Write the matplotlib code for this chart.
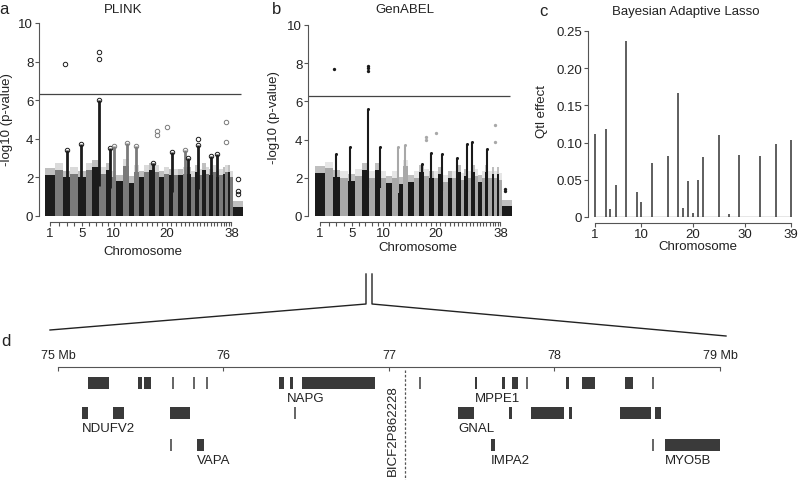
import matplotlib
matplotlib.use("Agg")
import matplotlib.pyplot as plt
import numpy as np

plt.rcParams['font.family'] = ['Liberation Sans', 'DejaVu Sans']

W, H = 798, 481

# dog chromosome lengths in Mb (1..38, X)
chrom_len = [125.6, 88.4, 94.7, 91.5, 91.9, 80.0, 83.9, 77.3, 62.0, 69.9,
             75.0, 72.5, 64.0, 61.4, 65.3, 60.2, 65.0, 56.5, 58.2, 59.0,
             51.8, 61.8, 54.0, 49.8, 52.5, 41.5, 48.0, 43.0, 42.7, 40.9,
             42.4, 40.6, 34.4, 45.1, 29.9, 32.8, 31.8, 26.9, 126.9]
labelled_chroms = [1, 5, 10, 20, 38]

# panel a: PLINK, dense band height per chromosome, columns (chrom, frac, top), single hits
plink_base = [2.15, 2.4, 2.0, 2.2, 2.0, 2.4, 2.55, 2.2, 2.4, 2.0,
              1.8, 2.6, 1.7, 2.3, 2.0, 2.3, 2.4, 2.3, 2.0, 2.2,
              2.1, 2.1, 2.1, 2.2, 2.2, 2.0, 2.3, 2.1, 2.4, 2.2,
              2.1, 2.3, 2.0, 2.1, 2.2, 2.3, 2.3, 2.0, 0.45]
plink_spikes = [(3, 0.6, 3.4), (5, 0.35, 3.75), (7, 0.93, 6.0), (9, 0.85, 3.5),
                (10, 0.55, 3.65), (12, 0.8, 3.8), (14, 0.5, 3.65), (17, 0.6, 2.75),
                (21, 0.6, 3.3), (24, 0.5, 3.4), (25, 0.3, 3.0), (27, 0.75, 3.7),
                (31, 0.5, 3.1), (33, 0.5, 3.2)]
plink_points = [(3, 0.3, 7.9), (7, 0.93, 8.5), (7, 0.93, 8.15), (18, 0.6, 4.4),
                (18, 0.6, 4.2), (20, 0.5, 4.6), (36, 0.2, 4.85), (36, 0.2, 3.85),
                (27, 0.9, 4.0), (39, 0.5, 1.9), (39, 0.55, 1.3), (39, 0.55, 1.15)]

# panel b: GenABEL
genabel_base = [2.25, 2.5, 2.05, 2.0, 1.85, 2.1, 2.4, 2.0, 2.4, 2.0,
                1.75, 2.0, 1.7, 2.6, 1.8, 2.0, 2.3, 2.1, 2.0, 2.0,
                2.2, 1.8, 2.0, 2.0, 2.3, 1.9, 2.1, 2.0, 2.3, 2.1,
                1.8, 2.0, 2.3, 2.0, 2.2, 2.0, 2.2, 1.9, 0.5]
genabel_spikes = [(3, 0.5, 3.25), (5, 0.25, 3.6), (7, 0.93, 5.6), (9, 0.9, 3.6),
                  (12, 0.9, 3.6), (14, 0.4, 3.7), (17, 0.6, 2.7), (19, 0.5, 3.3),
                  (21, 0.75, 3.25), (25, 0.2, 3.05), (27, 0.75, 3.75), (29, 0.3, 3.9),
                  (33, 0.8, 3.5)]
genabel_points = [(3, 0.2, 7.7), (7, 0.93, 7.85), (7, 0.93, 7.75), (7, 0.93, 7.6),
                  (18, 0.4, 4.15), (18, 0.4, 4.0), (20, 0.5, 4.35), (36, 0.5, 4.75),
                  (36, 0.5, 3.9), (39, 0.3, 1.4), (39, 0.3, 1.3)]

threshold = 6.3

# panel c: Bayesian adaptive lasso QTL effects
bal_pos = [1, 3.1, 4, 5.1, 7.1, 9.1, 10, 12, 15.1, 17, 18, 19, 20, 21, 22,
           25, 27, 29, 33, 36, 39]
bal_eff = [0.111, 0.118, 0.011, 0.043, 0.237, 0.034, 0.020, 0.073, 0.082, 0.167,
           0.0125, 0.048, 0.005, 0.050, 0.080, 0.110, 0.0045, 0.084, 0.082, 0.0985, 0.104]

# panel d: genes in chr7 75-79 Mb
gene_start = [75.183, 75.485, 75.521, 75.693, 75.824, 75.900, 76.333, 76.400, 76.474,
              77.185, 77.518, 77.683, 77.743, 77.832, 78.068, 78.164, 78.428, 78.593,
              75.147, 75.334, 75.677, 76.432, 77.417, 77.725, 77.860, 78.088, 78.393, 78.605,
              75.681, 75.842, 77.614, 78.597, 78.668]
gene_end = [75.308, 75.509, 75.560, 75.693, 75.824, 75.900, 76.364, 76.420, 76.915,
            77.185, 77.533, 77.699, 77.779, 77.832, 78.086, 78.247, 78.474, 78.593,
            75.183, 75.397, 75.800, 76.432, 77.516, 77.741, 78.057, 78.108, 78.584, 78.645,
            75.681, 75.884, 77.642, 78.597, 79.002]
gene_row = [1] * 18 + [2] * 10 + [3] * 5
gene_names = ['NDUFV2', 'VAPA', 'NAPG', 'MPPE1', 'GNAL', 'IMPA2', 'MYO5B']
gene_label_pos = [75.147, 75.842, 76.384, 77.518, 77.417, 77.614, 78.668]
gene_label_row = [2, 3, 1, 1, 2, 3, 3]
marker_name = 'BICF2P862228'
marker_pos = 77.097
region_ticks = [75, 76, 77, 78, 79]

TXT = '#222222'
AXC = '#555555'
FS = 9.5

fig = plt.figure(figsize=(W / 100, H / 100), dpi=100)


def px_axes(left, top, right, bottom, **kw):
    return fig.add_axes([left / W, 1 - bottom / H, (right - left) / W, (bottom - top) / H], **kw)


def ftext(x, y, s, **kw):
    kw.setdefault('color', TXT)
    fig.text(x / W, 1 - y / H, s, ha=kw.pop('ha', 'center'), va=kw.pop('va', 'center'), **kw)


def style_axes(ax):
    for side in ['top', 'right']:
        ax.spines[side].set_visible(False)
    for side in ['left', 'bottom']:
        ax.spines[side].set_color(AXC)
        ax.spines[side].set_linewidth(0.8)
    ax.spines['bottom'].set_position(('outward', 4.3))
    ax.tick_params(length=2.6, width=0.8, color=AXC, labelsize=FS, labelcolor=TXT)
    ax.tick_params(axis='y', pad=1.5)
    ax.tick_params(axis='x', pad=0.8)


def manhattan(ax, base, spikes, points, colors, hollow, data_px, ax_px, thr_end):
    starts = np.concatenate([[0], np.cumsum(chrom_len)[:-1]])
    centers = starts + np.array(chrom_len) / 2
    total = sum(chrom_len)
    sc = (data_px[1] - data_px[0]) / total
    ax.set_xlim((ax_px[0] - data_px[0]) / sc, (ax_px[1] - data_px[0]) / sc)
    ax.set_ylim(0, 10)
    cols = [colors[i % 2] for i in range(len(chrom_len))]
    # faint halo of sparse points just above the dense band
    ax.bar(starts, np.array(base) + 0.35, width=chrom_len, align='edge', color=cols,
           alpha=0.28, linewidth=0)
    ax.bar(starts, base, width=chrom_len, align='edge', color=cols, linewidth=0)
    for c, f, top in spikes:
        i = c - 1
        x = starts[i] + f * chrom_len[i]
        ax.vlines(x, base[i] * 0.6, top, color=cols[i], lw=2.0 if hollow else 1.5)
        if hollow:
            ax.plot(x, top, 'o', ms=3.2, mfc='none', mec=cols[i], mew=0.7)
        else:
            ax.plot(x, top, 'o', ms=2.2, color=cols[i], mew=0)
    for c, f, v in points:
        i = c - 1
        x = starts[i] + f * chrom_len[i]
        if hollow:
            ax.plot(x, v, 'o', ms=3.2, mfc='none', mec=cols[i], mew=0.7)
        else:
            ax.plot(x, v, 'o', ms=2.4, color=cols[i], mew=0)
    ax.hlines(threshold, ax.get_xlim()[0], (thr_end - data_px[0]) / sc, color='#444444', lw=0.9)
    style_axes(ax)
    ax.set_yticks([0, 2, 4, 6, 8, 10])
    ax.spines['left'].set_bounds(0, 10)
    ax.set_xticks(centers[:38])
    ax.set_xticklabels([str(i + 1) if (i + 1) in labelled_chroms else '' for i in range(38)])
    ax.spines['bottom'].set_bounds(centers[0], centers[37])


# panel a
ax_a = px_axes(39, 24, 245, 217)
manhattan(ax_a, plink_base, plink_spikes, plink_points, ['#1c1c1c', '#7a7a7a'], True,
          (45, 243), (39, 245), 241)
ftext(4, 10, 'a', fontsize=12)
ftext(123, 10, 'PLINK', fontsize=FS)
ftext(7, 120, '-log10 (p-value)', fontsize=FS, rotation=90)
ftext(143, 252, 'Chromosome', fontsize=FS)

# panel b
ax_b = px_axes(308, 26, 514, 217)
manhattan(ax_b, genabel_base, genabel_spikes, genabel_points, ['#1a1a1a', '#a8a8a8'], False,
          (315, 512), (308, 514), 510)
ftext(277, 9, 'b', fontsize=12)
ftext(405, 10, 'GenABEL', fontsize=FS)
ftext(274, 118, '-log10 (p-value)', fontsize=FS, rotation=90)
ftext(418, 248, 'Chromosome', fontsize=FS)

# panel c
ax_c = px_axes(588, 32, 797, 218)
sc_c = (791 - 595) / 38
ax_c.set_xlim(1 - (595 - 588) / sc_c, 39 + (797 - 791) / sc_c)
ax_c.set_ylim(0, 0.25)
ax_c.vlines(bal_pos, 0, bal_eff, color='#333333', lw=1.1)
ax_c.hlines(0, 1, 39, color='#444444', lw=0.9)
style_axes(ax_c)
ax_c.set_yticks([0, 0.05, 0.10, 0.15, 0.20, 0.25])
ax_c.set_yticklabels(['0', '0.05', '0.10', '0.15', '0.20', '0.25'])
ax_c.spines['left'].set_bounds(0, 0.25)
ax_c.set_xticks([1, 10, 20, 30, 39])
ax_c.spines['bottom'].set_bounds(1, 39)
ftext(543, 12, 'c', fontsize=12)
ftext(686, 12, 'Bayesian Adaptive Lasso', fontsize=FS)
ftext(542, 112, 'Qtl effect', fontsize=FS, rotation=90)
ftext(698, 247, 'Chromosome', fontsize=FS)

# panel d
ax_d = px_axes(0, 260, W, H)
ax_d.patch.set_alpha(0)
mb_px = 165.5
ax_d.set_xlim(75 - 58 / mb_px, 75 + (W - 58) / mb_px)
ax_d.set_ylim(H, 260)
row_y = {1: 384, 2: 414, 3: 446}
for s, e, r in zip(gene_start, gene_end, gene_row):
    y = row_y[r]
    if e - s < 0.005:
        ax_d.vlines(s, y - 6, y + 6, color='#3a3a3a', lw=1.1)
    else:
        ax_d.barh(y, e - s, left=s, height=12, color='#3a3a3a', linewidth=0)
for name, x, r in zip(gene_names, gene_label_pos, gene_label_row):
    ax_d.text(x, row_y[r] + 15, name, ha='left', va='center', fontsize=FS, color=TXT)
ax_d.vlines(marker_pos, 371, H, color='#555555', lw=0.9, linestyles=(0, (2, 1.5)))
ax_d.annotate(marker_name, xy=(marker_pos, 431), xytext=(-8.6, 0), textcoords='offset points',
              rotation=90, ha='center', va='center', fontsize=FS, color=TXT)
for side in ['left', 'right', 'bottom']:
    ax_d.spines[side].set_visible(False)
ax_d.spines['top'].set_position(('data', 368))
ax_d.spines['top'].set_bounds(75, 79)
ax_d.spines['top'].set_color(AXC)
ax_d.spines['top'].set_linewidth(0.8)
ax_d.xaxis.tick_top()
ax_d.set_xticks(region_ticks)
ax_d.set_xticklabels(['75 Mb', '76', '77', '78', '79 Mb'])
ax_d.set_yticks([])
ax_d.tick_params(axis='x', direction='in', length=3.2, width=0.8, color=AXC,
                 labelsize=9, labelcolor=TXT, pad=4)
ftext(6, 342, 'd', fontsize=12)

# connector lines from panel b (chr7) down to the zoomed region in panel d
ax_o = fig.add_axes([0, 0, 1, 1])
ax_o.patch.set_alpha(0)
ax_o.set_xlim(0, W)
ax_o.set_ylim(H, 0)
ax_o.axis('off')
ax_o.plot([366, 366, 50], [275, 305, 331], color='#222222', lw=1)
ax_o.plot([372, 372, 726], [275, 305, 337], color='#222222', lw=1)

fig.savefig('out.png', dpi=100)
